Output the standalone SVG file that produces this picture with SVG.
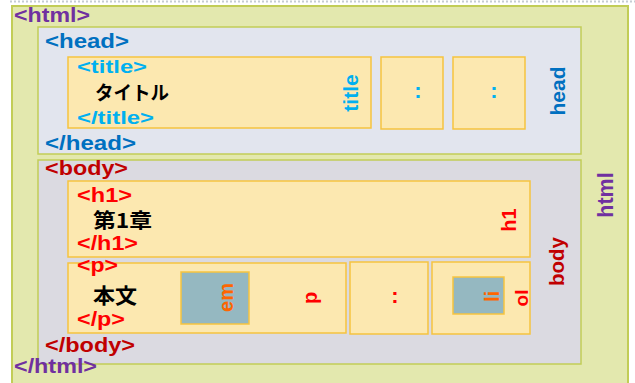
<svg xmlns="http://www.w3.org/2000/svg" width="635" height="383" viewBox="0 0 635 383">
<style>
text{font-family:"Liberation Sans","Noto Sans CJK JP",Arial,sans-serif;font-weight:bold;}
.jp{font-family:"Noto Sans CJK JP","Liberation Sans",sans-serif;font-weight:bold;fill:#000;}
.html{fill:#e3e8ae;stroke:#c2cd57;stroke-width:2;}
.sec{stroke:#c2cd57;stroke-width:1.5;}
.box{fill:#fce8b0;stroke:#f6c33f;stroke-width:1.5;}
.inl{fill:#95b8c1;stroke:#f6c33f;stroke-width:1.5;}
.v{text-anchor:middle;}
</style>
<line x1="10" y1="1.5" x2="635" y2="1.5" stroke="#c5ccd3" stroke-width="2" stroke-dasharray="2,2"/>
<g id="html">
<rect class="html" x="12" y="6" width="616" height="385"/>
<text x="14" y="22" font-size="21" fill="#7030a0" textLength="76" lengthAdjust="spacingAndGlyphs">&lt;html&gt;</text>
<text class="v" transform="translate(613,195) rotate(-90)" font-size="21.5" fill="#7030a0">html</text>
<g id="head">
<rect class="sec" x="38" y="27" width="543" height="127" fill="#e2e5ee"/>
<text x="45" y="48" font-size="21" fill="#0070c0" textLength="84" lengthAdjust="spacingAndGlyphs">&lt;head&gt;</text>
<text x="45" y="150" font-size="21" fill="#0070c0" textLength="91" lengthAdjust="spacingAndGlyphs">&lt;/head&gt;</text>
<text class="v" transform="translate(565,91) rotate(-90)" font-size="21" fill="#0070c0">head</text>
<g id="title">
<rect class="box" x="68" y="57" width="303" height="71"/>
<text x="77" y="73" font-size="19" fill="#00b0f0" textLength="70" lengthAdjust="spacingAndGlyphs">&lt;title&gt;</text>
<text class="jp" x="95" y="100" font-size="19" textLength="74" lengthAdjust="spacingAndGlyphs">タイトル</text>
<text x="77" y="124" font-size="19" fill="#00b0f0" textLength="77" lengthAdjust="spacingAndGlyphs">&lt;/title&gt;</text>
<text class="v" transform="translate(358,93) rotate(-90)" font-size="21" fill="#00b0f0">title</text>
</g>
<g id="head-more1">
<rect class="box" x="381" y="57" width="62" height="72"/>
<text class="v" x="418" y="98" font-size="22" fill="#00b0f0">:</text>
</g>
<g id="head-more2">
<rect class="box" x="453" y="57" width="72" height="72"/>
<text class="v" x="494" y="98" font-size="22" fill="#00b0f0">:</text>
</g>
</g>
<g id="body">
<rect class="sec" x="38" y="160" width="543" height="204" fill="#dbdae1"/>
<text x="45" y="175" font-size="20" fill="#c00000" textLength="83" lengthAdjust="spacingAndGlyphs">&lt;body&gt;</text>
<text x="45" y="352" font-size="20" fill="#c00000" textLength="90" lengthAdjust="spacingAndGlyphs">&lt;/body&gt;</text>
<text class="v" transform="translate(564,261.5) rotate(-90)" font-size="20.5" fill="#c00000">body</text>
<g id="h1">
<rect class="box" x="68" y="181" width="462" height="76"/>
<text x="77" y="202" font-size="20" fill="#ff0000" textLength="55" lengthAdjust="spacingAndGlyphs">&lt;h1&gt;</text>
<text class="jp" x="93" y="228" font-size="20" textLength="59" lengthAdjust="spacingAndGlyphs">第1章</text>
<text x="77" y="250" font-size="20" fill="#ff0000" textLength="61" lengthAdjust="spacingAndGlyphs">&lt;/h1&gt;</text>
<text class="v" transform="translate(516,220) rotate(-90)" font-size="20" fill="#ff0000">h1</text>
</g>
<g id="p">
<rect class="box" x="68" y="263" width="278" height="70"/>
<text x="77" y="272" font-size="20" fill="#ff0000" textLength="41" lengthAdjust="spacingAndGlyphs">&lt;p&gt;</text>
<text class="jp" x="93" y="303" font-size="21" textLength="44" lengthAdjust="spacingAndGlyphs">本文</text>
<text x="77" y="326" font-size="20" fill="#ff0000" textLength="48" lengthAdjust="spacingAndGlyphs">&lt;/p&gt;</text>
<text class="v" transform="translate(317,298) rotate(-90)" font-size="20" fill="#ff0000">p</text>
<g id="em">
<rect class="inl" x="181" y="272" width="68" height="52"/>
<text class="v" transform="translate(233,297.5) rotate(-90)" font-size="20" fill="#ff6600">em</text>
</g>
</g>
<g id="body-more">
<rect class="box" x="350" y="262" width="78" height="72"/>
<text class="v" x="395" y="303" font-size="22" fill="#ff0000">:</text>
</g>
<g id="ol">
<rect class="box" x="432" y="262" width="98" height="72"/>
<text class="v" transform="translate(528,298) rotate(-90)" font-size="19" fill="#ff0000">ol</text>
<g id="li">
<rect class="inl" x="453" y="277" width="51" height="37"/>
<text class="v" transform="translate(499,296.5) rotate(-90)" font-size="20" fill="#ff6600">li</text>
</g>
</g>
</g>
<text x="14" y="373" font-size="21" fill="#7030a0" textLength="83" lengthAdjust="spacingAndGlyphs">&lt;/html&gt;</text>
</g>
<g id="connectors"></g>
</svg>
